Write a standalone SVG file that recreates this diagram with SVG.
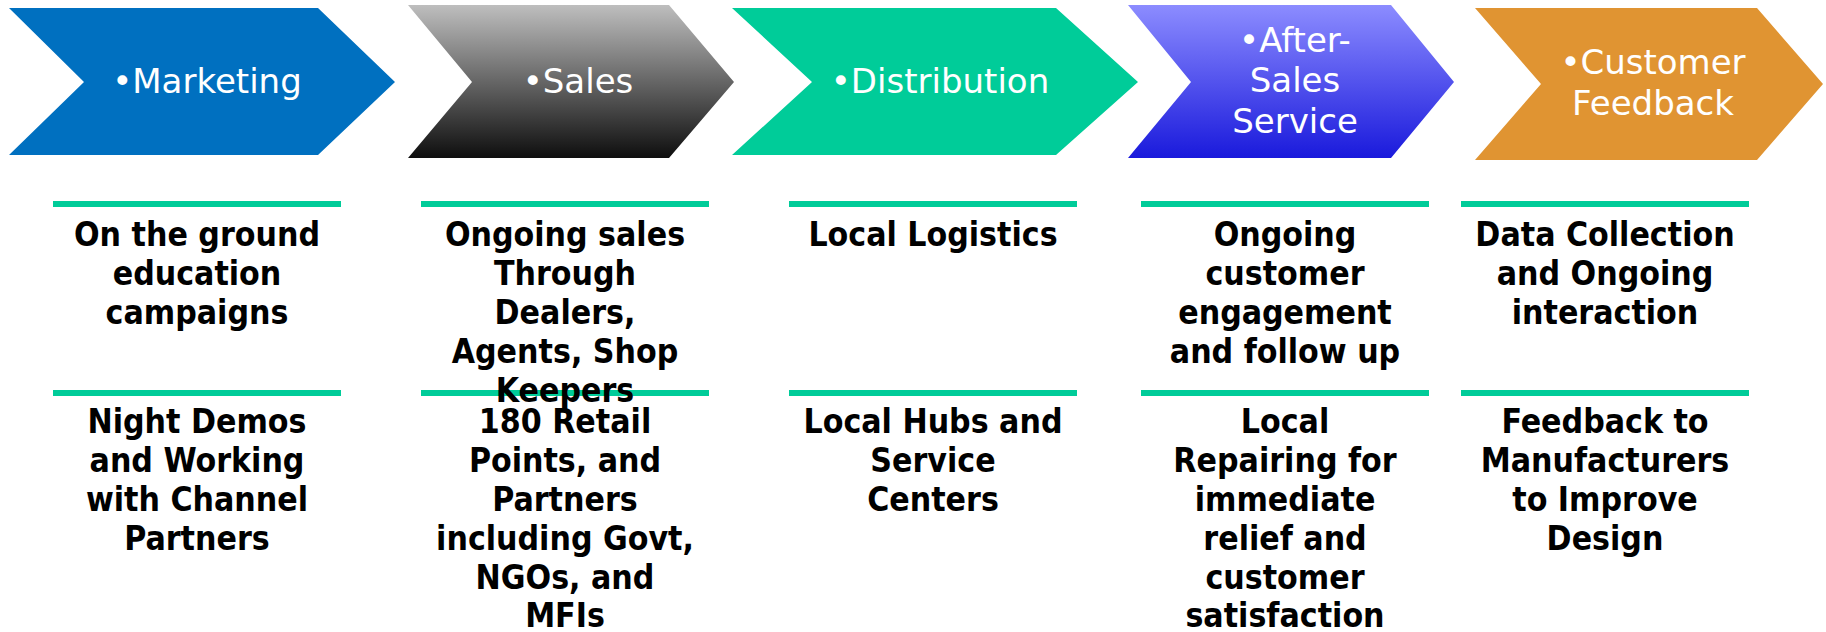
<svg xmlns="http://www.w3.org/2000/svg" width="1826" height="632" viewBox="0 0 1826 632">
<style>
.hd{font-family:"DejaVu Sans",sans-serif;font-size:34px;fill:#FFFFFF;text-anchor:middle}
.bd{font-family:"DejaVu Sans Condensed","DejaVu Sans",sans-serif;font-stretch:condensed;font-weight:bold;font-size:33.5px;fill:#000000;text-anchor:middle}
.ln{fill:#00CC99}
</style>
<defs>
<linearGradient id="gGray" x1="0" y1="0" x2="0" y2="1">
<stop offset="0" stop-color="#BEBEBE"/>
<stop offset="1" stop-color="#0E0E0E"/>
</linearGradient>
<linearGradient id="gBlue" x1="0" y1="0" x2="0" y2="1">
<stop offset="0" stop-color="#8C8CFF"/>
<stop offset="1" stop-color="#1A1ADC"/>
</linearGradient>
</defs>
<rect width="1826" height="632" fill="#FFFFFF"/>
<g id="marketing">
<polygon points="9,8 318,8 395,82 318,155 9,155 84,82" fill="#0070C0"/>
<text class="hd" x="207" y="93">•Marketing</text>
</g>
<g id="sales">
<polygon points="408,5 669,5 734,82 669,158 408,158 472,82" fill="url(#gGray)"/>
<text class="hd" x="578" y="93">•Sales</text>
</g>
<g id="distribution">
<polygon points="732,8 1056,8 1138,82 1056,155 732,155 812,82" fill="#00CC99"/>
<text class="hd" x="940" y="93">•Distribution</text>
</g>
<g id="after-sales">
<polygon points="1128,5 1391,5 1454,82 1391,158 1128,158 1191,82" fill="url(#gBlue)"/>
<text class="hd" x="1295" y="52">•After-</text>
<text class="hd" x="1295" y="92">Sales</text>
<text class="hd" x="1295" y="133">Service</text>
</g>
<g id="feedback">
<polygon points="1475,8 1757,8 1823,84 1757,160 1475,160 1541,84" fill="#E09432"/>
<text class="hd" x="1653" y="74">•Customer</text>
<text class="hd" x="1653" y="115">Feedback</text>
</g>
<g id="dividers">
<rect class="ln" x="53" y="201" width="288" height="6"/>
<rect class="ln" x="421" y="201" width="288" height="6"/>
<rect class="ln" x="789" y="201" width="288" height="6"/>
<rect class="ln" x="1141" y="201" width="288" height="6"/>
<rect class="ln" x="1461" y="201" width="288" height="6"/>
<rect class="ln" x="53" y="390" width="288" height="6"/>
<rect class="ln" x="421" y="390" width="288" height="6"/>
<rect class="ln" x="789" y="390" width="288" height="6"/>
<rect class="ln" x="1141" y="390" width="288" height="6"/>
<rect class="ln" x="1461" y="390" width="288" height="6"/>
</g>
<g id="marketing-details">
<text class="bd" x="197"><tspan x="197" y="246">On the ground</tspan><tspan x="197" y="285">education</tspan><tspan x="197" y="324">campaigns</tspan></text>
<text class="bd" x="197"><tspan x="197" y="433">Night Demos</tspan><tspan x="197" y="472">and Working</tspan><tspan x="197" y="511">with Channel</tspan><tspan x="197" y="550">Partners</tspan></text>
</g>
<g id="sales-details">
<text class="bd" x="565"><tspan x="565" y="246">Ongoing sales</tspan><tspan x="565" y="285">Through</tspan><tspan x="565" y="324">Dealers,</tspan><tspan x="565" y="363">Agents, Shop</tspan><tspan x="565" y="402">Keepers</tspan></text>
<text class="bd" x="565"><tspan x="565" y="433">180 Retail</tspan><tspan x="565" y="472">Points, and</tspan><tspan x="565" y="511">Partners</tspan><tspan x="565" y="550">including Govt,</tspan><tspan x="565" y="589">NGOs, and</tspan><tspan x="565" y="627">MFIs</tspan></text>
</g>
<g id="distribution-details">
<text class="bd" x="933"><tspan x="933" y="246">Local Logistics</tspan></text>
<text class="bd" x="933"><tspan x="933" y="433">Local Hubs and</tspan><tspan x="933" y="472">Service</tspan><tspan x="933" y="511">Centers</tspan></text>
</g>
<g id="after-sales-details">
<text class="bd" x="1285"><tspan x="1285" y="246">Ongoing</tspan><tspan x="1285" y="285">customer</tspan><tspan x="1285" y="324">engagement</tspan><tspan x="1285" y="363">and follow up</tspan></text>
<text class="bd" x="1285"><tspan x="1285" y="433">Local</tspan><tspan x="1285" y="472">Repairing for</tspan><tspan x="1285" y="511">immediate</tspan><tspan x="1285" y="550">relief and</tspan><tspan x="1285" y="589">customer</tspan><tspan x="1285" y="627">satisfaction</tspan></text>
</g>
<g id="feedback-details">
<text class="bd" x="1605"><tspan x="1605" y="246">Data Collection</tspan><tspan x="1605" y="285">and Ongoing</tspan><tspan x="1605" y="324">interaction</tspan></text>
<text class="bd" x="1605"><tspan x="1605" y="433">Feedback to</tspan><tspan x="1605" y="472">Manufacturers</tspan><tspan x="1605" y="511">to Improve</tspan><tspan x="1605" y="550">Design</tspan></text>
</g>
</svg>
